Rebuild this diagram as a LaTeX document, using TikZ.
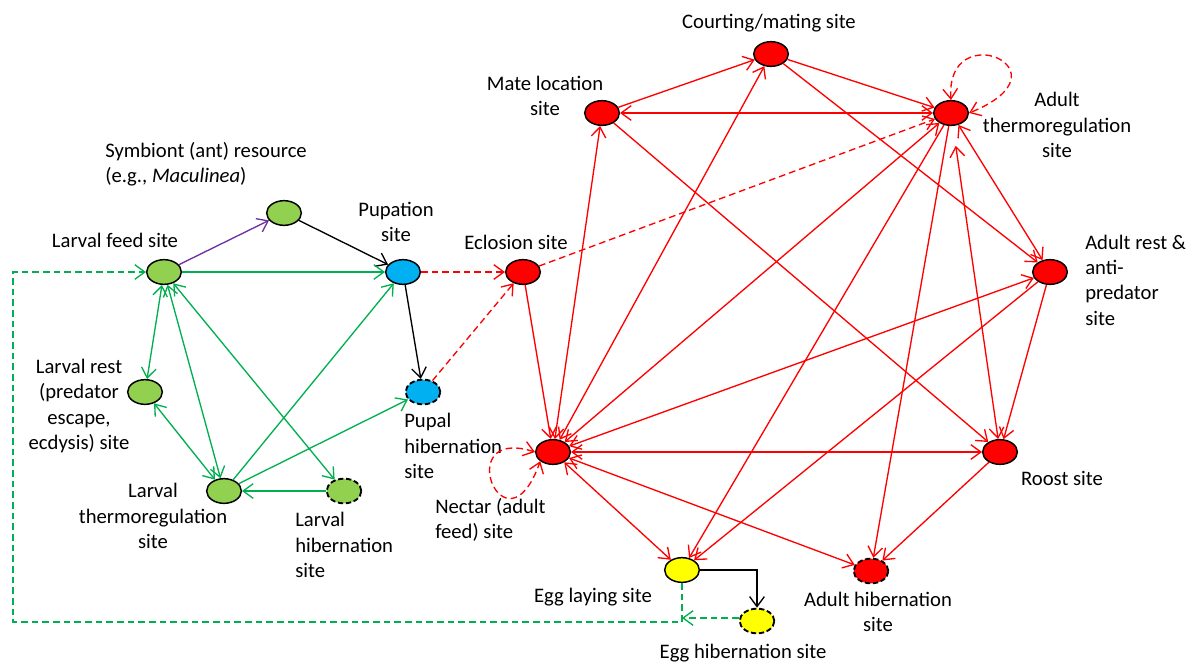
\documentclass[tikz,border=0pt]{standalone}
\usepackage{fontspec}
\setmainfont{Carlito}
\usepackage{tikz}
\usetikzlibrary{shapes.geometric,arrows.meta}
\usepackage{xcolor}
\definecolor{leafgreen}{HTML}{92D050}
\definecolor{edgegreen}{HTML}{00B050}
\definecolor{pupablue}{HTML}{00B0F0}
\definecolor{antpurple}{HTML}{7030A0}
\definecolor{eggyellow}{HTML}{FFFF00}
\tikzset{
    site/.style={ellipse,draw=black,line width=1.1pt,minimum width=26pt,
        minimum height=18.5pt,inner sep=0pt},
    hib/.style={line width=1.4pt,dash pattern=on 4pt off 2pt},
    link/.style={line width=1pt,>={Straight Barb[length=7.5pt,width=11pt]}},
    gline/.style={link,draw=edgegreen},
    rline/.style={link,draw=red},
    rdash/.style={rline,dash pattern=on 5pt off 3pt},
    gdash/.style={gline,dash pattern=on 5pt off 3pt},
    lbl/.style={font=\fontsize{15.5}{19}\selectfont,inner sep=0pt,align=center},
}
\newcommand{\site}[4] {
    \node[site,fill=#4] (#1) at (#2,#3) {};
}
\newcommand{\hibsite}[4] {
    \node[site,hib,fill=#4] (#1) at (#2,#3) {};
}

\begin{document}
\begin{tikzpicture}[x=0.75pt,y=-0.75pt]
    \useasboundingbox (0,0) rectangle (1188,665);
    % larval and pupal sites
    \site{larvfeed}{164}{272}{leafgreen}
    \site{symbiont}{284}{213}{leafgreen}
    \site{pupation}{403}{272}{pupablue}
    \site{larvrest}{145}{392}{leafgreen}
    \site{larvthermo}{224}{491}{leafgreen}
    \hibsite{larvhib}{344}{491}{leafgreen}
    \hibsite{pupalhib}{423}{392}{pupablue}
    % adult sites
    \site{eclosion}{523}{272}{red}
    \site{mateloc}{602}{113}{red}
    \site{courting}{771}{54}{red}
    \site{adultthermo}{951}{113}{red}
    \site{adultrest}{1050}{272}{red}
    \site{roost}{1000}{452}{red}
    \hibsite{adulthib}{871}{571}{red}
    \site{nectar}{553}{452}{red}
    % egg sites
    \site{egglay}{682}{570}{eggyellow}
    \hibsite{egghib}{757}{621}{eggyellow}

    \node[lbl,anchor=west,align=left] (symbiontlbl) at (105,164)
        {Symbiont (ant) resource\\(e.g., \textit{Maculinea})};
    \node[lbl] (larvfeedlbl) at (115,240) {Larval feed site};
    \node[lbl] (pupationlbl) at (396,222) {Pupation\\site};
    \node[lbl] (larvrestlbl) at (79,406) {Larval rest\\(predator\\escape,\\ecdysis) site};
    \node[lbl] (larvthermolbl) at (153,516) {Larval\\thermoregulation\\site};
    \node[lbl,anchor=west,align=left] (larvhiblbl) at (295,545) {Larval\\hibernation\\site};
    \node[lbl,anchor=west,align=left] (pupalhiblbl) at (404,446) {Pupal\\hibernation\\site};
    \node[lbl] (eclosionlbl) at (516,242) {Eclosion site};
    \node[lbl] (matelocl) at (545,96) {Mate location\\site};
    \node[lbl] (courtinglbl) at (769,23) {Courting/mating site};
    \node[lbl] (adultthermolbl) at (1057,125) {Adult\\thermoregulation\\site};
    \node[lbl,anchor=west,align=left] (adultrestlbl) at (1085,280)
        {Adult rest \&\\anti-\\predator\\site};
    \node[lbl] (roostlbl) at (1062,478) {Roost site};
    \node[lbl] (adulthiblbl) at (878,612) {Adult hibernation\\site};
    \node[lbl,anchor=west,align=left] (nectarlbl) at (435,520) {Nectar (adult\\feed) site};
    \node[lbl] (egglaylbl) at (593,597) {Egg laying site};
    \node[lbl] (egghiblbl) at (743,653) {Egg hibernation site};

    % larval links
    \draw[link,draw=antpurple,->] (larvfeed) -- (symbiont);
    \draw[link,->] (symbiont) -- (pupation);
    \draw[gline,->] (larvfeed) -- (pupation);
    \draw[gline,<->] (larvfeed) -- (larvrest);
    \draw[gline,<->] (larvfeed) -- (larvthermo);
    \draw[gline,<->] (larvfeed) -- (larvhib);
    \draw[gline,<->] (larvrest) -- (larvthermo);
    \draw[gline,->] (larvthermo) -- (pupation);
    \draw[gline,->] (larvthermo) -- (pupalhib);
    \draw[gline,->] (larvhib) -- (larvthermo);
    \draw[link,->] (pupation) -- (pupalhib);
    \draw[rdash,->] (pupation) -- (eclosion);
    \draw[rdash,->] (pupalhib) -- (eclosion);

    % adult links
    \draw[rline,->] (mateloc) -- (courting);
    \draw[rline,->] (courting) -- (adultthermo);
    \draw[rline,->] (courting) -- (adultrest);
    \draw[rline,<->] (mateloc) -- (adultthermo);
    \draw[rline,->] (mateloc) -- (roost);
    \draw[rline,<->] (nectar) -- (mateloc);
    \draw[rline,<->] (nectar) -- (courting);
    \draw[rline,->] (eclosion) -- (nectar);
    \draw[rdash,->] (eclosion) -- (adultthermo);
    \draw[rline,<->] (nectar) -- (adultthermo);
    \draw[rline,->] (adultthermo) -- (egglay);
    \draw[rline,->] (adultthermo) -- (adulthib);
    \draw[rline,<->,shorten >=15pt] (roost) -- (adultthermo);
    \draw[rline,<->] (adultthermo) -- (adultrest);
    \draw[rline,<->] (nectar) -- (adultrest);
    \draw[rline,->] (adultrest) -- (egglay);
    \draw[rline,->] (adultrest) -- (roost);
    \draw[rline,<->] (nectar) -- (roost);
    \draw[rline,<->] (nectar) -- (adulthib);
    \draw[rline,<->] (nectar) -- (egglay);
    \draw[rline,->] (roost) -- (adulthib);
    \draw[rdash,<->] (adultthermo.north) .. controls (945,15) and (1075,70) .. (adultthermo.east);
    \draw[rdash,<->] (nectar.west) .. controls (450,425) and (505,560) .. (nectar.south west);

    % egg links
    \coordinate (eggjoin) at (682,618);
    \coordinate (loopcorner) at (13,622);
    \draw[link,->] (egglay.east) -| (egghib.north);
    \draw[gdash,->] (egghib.west |- eggjoin) -- (eggjoin);
    \draw[gdash,->] (egglay.south) |- (loopcorner) |- (larvfeed.west);
\end{tikzpicture}
\end{document}
